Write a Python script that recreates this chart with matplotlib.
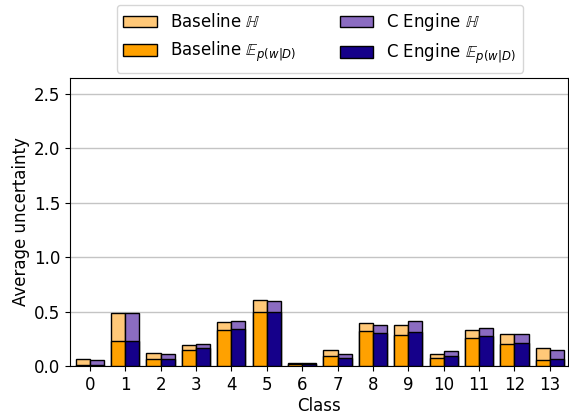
import matplotlib
matplotlib.use('Agg')
import matplotlib.pyplot as plt
import numpy as np

plt.rcParams['font.family'] = 'DejaVu Sans'
plt.rcParams['mathtext.fontset'] = 'dejavusans'
plt.rcParams['font.size'] = 12

classes = list(range(14))
# total uncertainty H and expected entropy E per class
baseline_h = [0.067, 0.488, 0.12, 0.193, 0.405, 0.604, 0.028, 0.147, 0.399, 0.377, 0.113, 0.328, 0.291, 0.169]
baseline_e = [0.008, 0.23, 0.067, 0.15, 0.33, 0.494, 0.018, 0.089, 0.319, 0.288, 0.07, 0.258, 0.202, 0.058]
engine_h = [0.052, 0.49, 0.11, 0.205, 0.41, 0.595, 0.028, 0.113, 0.374, 0.411, 0.138, 0.347, 0.294, 0.144]
engine_e = [0.006, 0.23, 0.067, 0.166, 0.337, 0.494, 0.018, 0.07, 0.30, 0.31, 0.092, 0.279, 0.209, 0.061]

c_base_h = '#ffc878'
c_base_e = '#ffa100'
c_eng_h = '#8b6cc1'
c_eng_e = '#15008a'

fig = plt.figure(figsize=(5.69, 4.15), dpi=100)
ax = fig.add_axes([0.123, 0.118, 0.875, 0.694])

x = np.arange(len(classes))
w = 0.4
ax.bar(x - w/2, baseline_h, w, color=c_base_h, edgecolor='black', linewidth=1, label=r'Baseline $\mathbb{H}$', zorder=2)
ax.bar(x - w/2, baseline_e, w, color=c_base_e, edgecolor='black', linewidth=1, label=r'Baseline $\mathbb{E}_{p(w|D)}$', zorder=3)
ax.bar(x + w/2, engine_h, w, color=c_eng_h, edgecolor='black', linewidth=1, label=r'C Engine $\mathbb{H}$', zorder=2)
ax.bar(x + w/2, engine_e, w, color=c_eng_e, edgecolor='black', linewidth=1, label=r'C Engine $\mathbb{E}_{p(w|D)}$', zorder=3)

ax.set_xticks(x)
ax.set_xticklabels([str(c) for c in classes])
ax.set_xlim(-0.56, 13.51)
ax.set_ylim(0, 2.645)
ax.set_yticks([0.0, 0.5, 1.0, 1.5, 2.0, 2.5])
ax.yaxis.grid(True, color='#c4c4c4', linewidth=1, zorder=0)
ax.set_axisbelow(True)
ax.set_xlabel('Class', labelpad=2)
ax.set_ylabel('Average uncertainty', labelpad=3)

handles, labels = ax.get_legend_handles_labels()
fig.legend(handles, labels, ncol=2,
           loc='center', bbox_to_anchor=(0.562, 0.907), fontsize=12,
           columnspacing=2.6, handlelength=2)

fig.savefig('out.png', dpi=100)
